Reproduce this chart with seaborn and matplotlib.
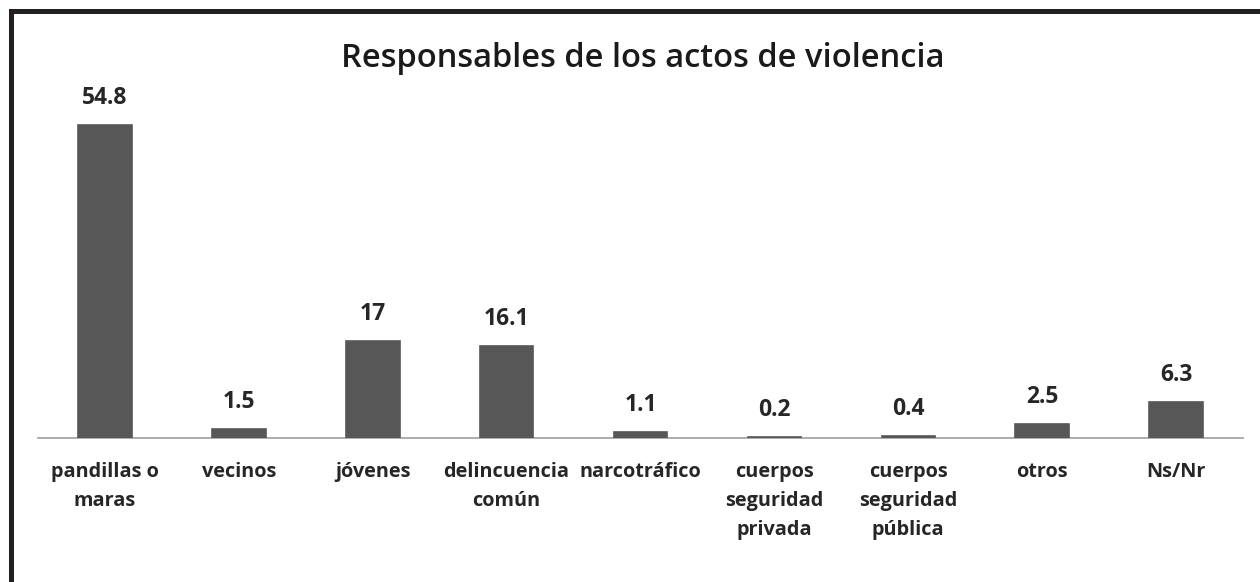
import matplotlib
matplotlib.use("Agg")
import matplotlib.pyplot as plt
from matplotlib.patches import Rectangle
import seaborn as sns
import pandas as pd

# Survey results: who is responsible for acts of violence (%)
categories = [
    "pandillas o\nmaras",
    "vecinos",
    "jóvenes",
    "delincuencia\ncomún",
    "narcotráfico",
    "cuerpos\nseguridad\nprivada",
    "cuerpos\nseguridad\npública",
    "otros",
    "Ns/Nr",
]
values = [54.8, 1.5, 17, 16.1, 1.1, 0.2, 0.4, 2.5, 6.3]
title = "Responsables de los actos de violencia"

df = pd.DataFrame({"categoria": categories, "porcentaje": values})

sns.set_theme(style="white")
plt.rcParams["font.family"] = ["Open Sans", "DejaVu Sans"]

W, H = 1260, 582
fig = plt.figure(figsize=(W / 100, H / 100), dpi=100)
fig.patch.set_facecolor("white")

ax = fig.add_axes([38 / W, (H - 438) / H, (1243 - 38) / W, (438 - 95.3) / H])

sns.barplot(data=df, x="categoria", y="porcentaje", color="#575757",
            saturation=1, width=0.4, ax=ax,
            edgecolor="#575757", linewidth=1.2)
for bar in ax.patches:
    bar.set_zorder(3)

ax.set_ylim(0, 60)
ax.set_xlim(-0.5, len(categories) - 0.5)
ax.set_xlabel("")
ax.set_ylabel("")
ax.set_yticks([])
for side in ("top", "right", "left"):
    ax.spines[side].set_visible(False)
ax.spines["bottom"].set_color("#a6a6a6")
ax.spines["bottom"].set_linewidth(1.3)
ax.spines["bottom"].set_zorder(1)

ax.tick_params(axis="x", length=0, pad=17)
for lbl in ax.get_xticklabels():
    lbl.set_fontsize(14.3)
    lbl.set_fontweight("bold")
    lbl.set_color("#262626")
    lbl.set_linespacing(1.6)

# value labels above each bar
for i, v in enumerate(values):
    ax.annotate(f"{v:g}", xy=(i, v), xytext=(0, 19.4), textcoords="offset points",
                ha="center", va="center", fontsize=16.5, fontweight="bold",
                color="#262626")

fig.text(643 / W, 1 - 58.5 / H, title, ha="center", va="center",
         fontsize=23.5, fontweight="semibold", color="#1a1a1a")

# frame around the chart (runs off the right and bottom edges)
fig.add_artist(Rectangle((10.5 / W, -0.2), 1.4, 1 - 10.5 / H + 0.2,
                         transform=fig.transFigure, fill=False,
                         edgecolor="#231f20", linewidth=3.6))

fig.savefig("out.png", dpi=100, facecolor="white")
